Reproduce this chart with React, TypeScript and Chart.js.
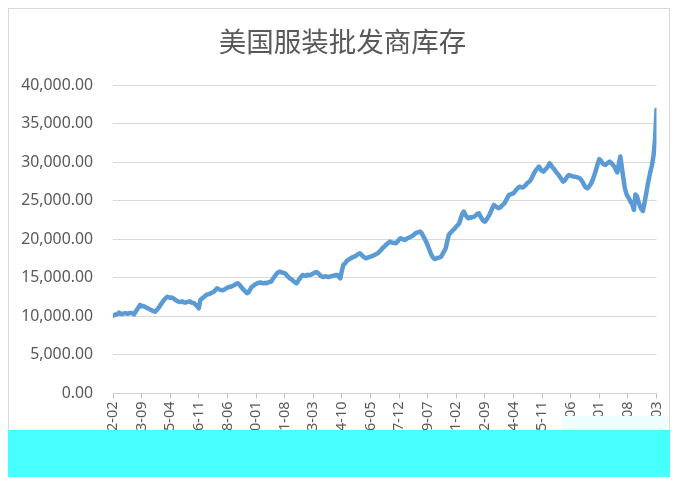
import React, { useEffect, useRef } from 'react';
import { Chart, registerables } from 'chart.js';

Chart.register(...registerables);

const chartTitle = '美国服装批发商库存';
const startYear = 1992;
const startMonth = 2;
const labelStep = 19;
const yMin = 0;
const yMax = 40000;
const yStep = 5000;

// Monthly inventory, 1992-02 .. 2022-03
const inventory: number[] = [
  10100, 10180, 10250, 10300, 10480, 10350, 10290, 10380, 10420, 10400, 10330, 10420,
  10450, 10380, 10270, 10600, 10900, 11200, 11480, 11300, 11350, 11260, 11150, 11050,
  10950, 10850, 10750, 10680, 10600, 10800, 11050, 11300, 11600, 11900, 12150, 12350,
  12550, 12480, 12400, 12450, 12350, 12200, 12050, 11950, 11900, 11850, 11950, 11820,
  11780, 11850, 11900, 11950, 11800, 11750, 11700, 11500, 11300, 11050, 12100, 12300,
  12450, 12600, 12780, 12850, 12900, 13000, 13100, 13200, 13400, 13640, 13550, 13480,
  13420, 13400, 13500, 13600, 13700, 13850, 13800, 13900, 14000, 14100, 14250, 14290,
  14100, 13850, 13600, 13400, 13200, 13000, 13100, 13450, 13800, 13900, 14100, 14200,
  14300, 14370, 14400, 14320, 14290, 14350, 14300, 14400, 14450, 14500, 14800, 15100,
  15350, 15600, 15750, 15800, 15700, 15650, 15590, 15450, 15200, 15000, 14850, 14720,
  14550, 14400, 14290, 14600, 14900, 15150, 15370, 15300, 15250, 15400, 15350, 15370,
  15450, 15550, 15650, 15750, 15650, 15450, 15250, 15150, 15100, 15200, 15150, 15100,
  15150, 15200, 15250, 15300, 15350, 15370, 15100, 14940, 15900, 16670, 16850, 17100,
  17310, 17400, 17550, 17650, 17740, 17800, 17950, 18100, 18180, 18000, 17800, 17650,
  17530, 17600, 17700, 17740, 17800, 17900, 18000, 18100, 18180, 18400, 18600, 18830,
  19000, 19200, 19400, 19550, 19690, 19600, 19550, 19500, 19480, 19700, 19950, 20130,
  20050, 19950, 19910, 20050, 20150, 20250, 20340, 20450, 20600, 20780, 20850, 20950,
  20990, 20800, 20450, 20050, 19690, 19200, 18700, 18180, 17800, 17530, 17450, 17550,
  17600, 17650, 17740, 18100, 18450, 18830, 19700, 20560, 20800, 21000, 21200, 21400,
  21650, 21850, 22080, 22700, 23300, 23580, 23200, 22900, 22720, 22850, 22800, 22900,
  22930, 23100, 23300, 23370, 23000, 22650, 22350, 22280, 22500, 22850, 23150, 23600,
  24050, 24450, 24300, 24150, 24020, 24100, 24300, 24500, 24670, 25000, 25400, 25750,
  25800, 25900, 25960, 26200, 26450, 26650, 26820, 26750, 26700, 26820, 27000, 27250,
  27400, 27550, 27900, 28300, 28700, 28990, 29200, 29420, 29100, 28850, 28770, 29000,
  29210, 29500, 29850, 29600, 29300, 29100, 28800, 28550, 28340, 28050, 27750, 27470,
  27600, 27900, 28200, 28340, 28250, 28180, 28120, 28100, 28050, 27980, 27910, 27700,
  27400, 27000, 26700, 26610, 26800, 27040, 27400, 27900, 28500, 29100, 29800, 30400,
  30200, 29900, 29700, 29640, 29800, 29950, 30070, 29900, 29650, 29420, 29000, 28680,
  29800, 30720, 29300, 27900, 26610, 25900, 25500, 25200, 24800, 24500, 23800, 25800,
  25600, 24900, 24300, 23900, 23670, 24700, 25750, 26900, 27900, 28800, 29600, 30800,
  32800, 36800,
];

const monthLabels: string[] = inventory.map((_, i) => {
  const m = startMonth - 1 + i;
  return `${startYear + Math.floor(m / 12)}-${String((m % 12) + 1).padStart(2, '0')}`;
});
const tickIndices: number[] = monthLabels.map((_, i) => i).filter((i) => i % labelStep === 0);

const textColor = '#595959';
const lineColor = '#5B9BD5';
const gridColor = '#d9d9d9';
const numFont = 'Noto Sans';

export default function App() {
  const ref = useRef<HTMLCanvasElement | null>(null);

  useEffect(() => {
    if (!ref.current) return;
    const chart = new Chart(ref.current, {
      type: 'line',
      data: {
        datasets: [
          {
            data: inventory.map((v, i) => ({ x: i, y: v })),
            borderColor: lineColor,
            borderWidth: 4.5,
            pointRadius: 0,
            tension: 0,
            borderJoinStyle: 'round',
            borderCapStyle: 'round',
            fill: false,
          },
        ],
      },
      options: {
        animation: false,
        responsive: false,
        devicePixelRatio: 1,
        layout: { padding: { left: 0, right: 12.5, top: 76, bottom: 0 } },
        plugins: {
          legend: { display: false },
          tooltip: { enabled: false },
          title: { display: false },
        },
        scales: {
          x: {
            type: 'linear',
            min: 0,
            max: inventory.length - 1,
            afterBuildTicks: (s: any) => {
              s.ticks = tickIndices.map((v) => ({ value: v }));
            },
            afterFit: (s: any) => {
              s.height = 82.5;
              s.paddingLeft = 0;
              s.paddingRight = 0;
            },
            grid: {
              drawOnChartArea: false,
              drawTicks: true,
              tickLength: 5,
              color: '#bfbfbf',
            },
            border: { display: true, color: '#d0d0d0' },
            ticks: {
              autoSkip: false,
              minRotation: 90,
              maxRotation: 90,
              padding: 3,
              color: textColor,
              font: { family: numFont, size: 14.5 },
              callback: (v: any) => monthLabels[Math.round(Number(v))] ?? '',
            },
          },
          y: {
            min: yMin,
            max: yMax,
            afterFit: (s: any) => {
              s.width = 104;
            },
            grid: { color: gridColor, lineWidth: 1, drawTicks: false },
            border: { display: false },
            ticks: {
              stepSize: yStep,
              padding: 20,
              color: textColor,
              font: { family: numFont, size: 15.8 },
              callback: (v: any) =>
                Number(v).toLocaleString('en-US', { minimumFractionDigits: 2, maximumFractionDigits: 2 }),
            },
          },
        },
      },
    });
    return () => chart.destroy();
  }, []);

  return (
    <div
      style={{
        position: 'relative',
        width: 662,
        height: 469,
        boxSizing: 'border-box',
        border: '1px solid #d9d9d9',
        background: '#fff',
      }}
    >
      <canvas ref={ref} width={660} height={467} style={{ display: 'block' }} />
      <div
        style={{
          position: 'absolute',
          left: 0,
          top: 14,
          width: 667,
          height: 34,
          lineHeight: '34px',
          textAlign: 'center',
          fontFamily: '"Noto Sans CJK SC", sans-serif',
          fontSize: 27.5,
          color: textColor,
          whiteSpace: 'nowrap',
        }}
      >
        {chartTitle}
      </div>
      <div
        style={{
          position: 'absolute',
          left: 553,
          top: 407,
          width: 106,
          height: 14,
          background: '#eefefe',
        }}
      />
      <div
        style={{
          position: 'absolute',
          left: -1,
          top: 421,
          width: 662,
          height: 47,
          background: '#48ffff',
        }}
      />
    </div>
  );
}
